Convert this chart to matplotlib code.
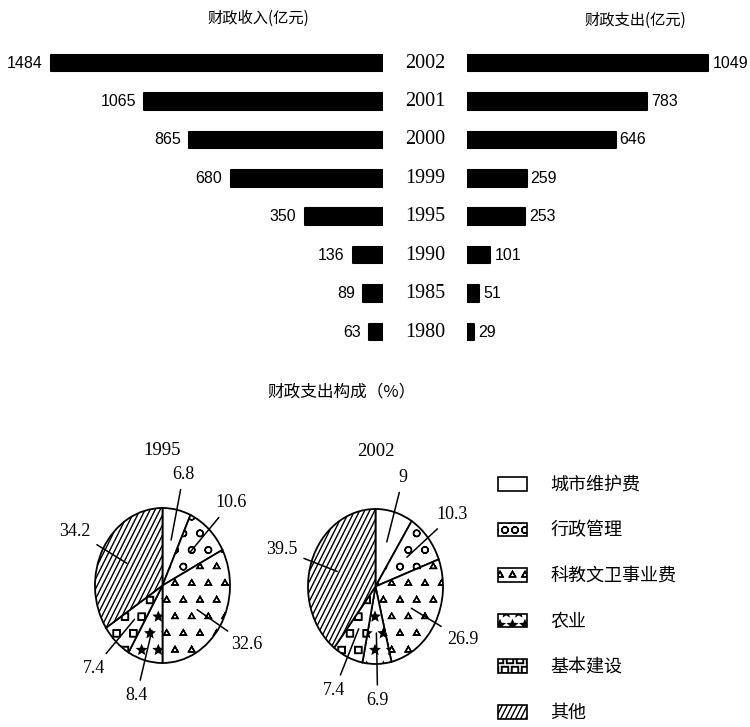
import numpy as np
import matplotlib
matplotlib.use('Agg')
import matplotlib.pyplot as plt
from matplotlib import hatch as mhatch
from matplotlib.path import Path
from matplotlib.patches import Patch
import matplotlib.transforms as mtransforms

# ---------------- data ----------------
years = ['2002', '2001', '2000', '1999', '1995', '1990', '1985', '1980']
revenue = [1484, 1065, 865, 680, 350, 136, 89, 63]          # 财政收入 (亿元)
expenditure = [1049, 783, 646, 259, 253, 101, 51, 29]       # 财政支出 (亿元)

categories = ['城市维护费', '行政管理', '科教文卫事业费', '农业', '基本建设', '其他']
pie_years = ['1995', '2002']
share_1995 = [6.8, 10.6, 32.6, 8.4, 7.4, 34.2]
share_2002 = [9, 10.3, 26.9, 6.9, 7.4, 39.5]

# ---------------- custom hatch patterns ----------------
def make_shape_hatch(char, path, radius, rows_per_count, filled=False):
    verts = np.array(path.vertices, float)
    codes = np.array(path.codes, dtype=Path.code_type)

    class ShapeHatch(mhatch.Shapes):
        def __init__(self, hatch, density):
            rows = int(round(hatch.count(char) * rows_per_count))
            self.num_rows = rows + rows % 2
            self.size = radius * self.num_rows
            self.filled = filled
            self.shape_vertices = verts
            self.shape_codes = codes
            super().__init__(hatch, density)
    return ShapeHatch


class SteepLines(mhatch.HatchPatternBase):
    def __init__(self, hatch, density):
        n = hatch.count('/') * 10
        self.num_lines = n + n % 2
        self.num_vertices = 0 if n == 0 else (int(1.5 * self.num_lines) + 3) * 2

    def set_vertices_and_codes(self, vertices, codes):
        m = self.num_vertices // 2
        a = -0.5 + np.arange(m) / self.num_lines
        vertices[0::2, 0] = a - 0.025
        vertices[0::2, 1] = -0.05
        vertices[1::2, 0] = a + 0.525
        vertices[1::2, 1] = 1.05
        codes[0::2] = Path.MOVETO
        codes[1::2] = Path.LINETO


square_path = Path([[-1, -1], [1, -1], [1, 1], [-1, 1], [-1, -1]],
                   [Path.MOVETO, Path.LINETO, Path.LINETO, Path.LINETO, Path.CLOSEPOLY])
_ht = mhatch._hatch_types
_ht[_ht.index(mhatch.NorthEastHatch)] = SteepLines
_ht[_ht.index(mhatch.SmallCircles)] = make_shape_hatch('o', Path.unit_circle(), 0.033, 2)
_ht[_ht.index(mhatch.SmallFilledCircles)] = make_shape_hatch('.', Path.unit_regular_polygon(3), 0.037, 2)
_ht[_ht.index(mhatch.Stars)] = make_shape_hatch('*', Path.unit_regular_star(5, 0.45), 0.045, 2, filled=True)
_ht[_ht.index(mhatch.LargeCircles)] = make_shape_hatch('O', square_path, 0.035, 2)

pie_hatches = ['', 'ooo', '...', '***', 'OOO', '//']
legend_hatches = ['', 'ooooo', '....', '****', 'OOOOO', '//']

# ---------------- style ----------------
CJK = ['Noto Sans CJK SC', 'DejaVu Sans']
plt.rcParams['font.family'] = CJK
plt.rcParams['hatch.linewidth'] = 1.0
plt.rcParams['hatch.color'] = 'black'

W, H = 750, 727
fig = plt.figure(figsize=(W / 100, H / 100), dpi=100)
fig.patch.set_facecolor('white')


def fx(px):
    return px / W


def fy(py):
    return 1 - py / H


# ---------------- back-to-back bars ----------------
n = len(years)
pitch = (332 - 63) / (n - 1)
top = 63 - pitch / 2
bottom = 332 + pitch / 2
pos = np.arange(n)

axL = fig.add_axes([0, fy(bottom), 383 / W, (bottom - top) / H])
axR = fig.add_axes([467 / W, fy(bottom), 283 / W, (bottom - top) / H])

barsL = axL.barh(pos, revenue, height=0.43, color='black', edgecolor='black',
                 linewidth=1.5, joinstyle='round')
barsR = axR.barh(pos, expenditure, height=0.43, color='black', edgecolor='black',
                 linewidth=1.5, joinstyle='round')

axL.set_xlim(383 / 0.224, 0)
axR.set_xlim(0, 283 / 0.230)
for ax in (axL, axR):
    ax.set_ylim(n - 0.5, -0.5)
    ax.axis('off')

num_family = ['Liberation Sans', 'DejaVu Sans']
axL.bar_label(barsL, labels=[str(v) for v in revenue], padding=6,
              fontfamily=num_family, fontsize=11.5)
axR.bar_label(barsR, labels=[str(v) for v in expenditure], padding=3,
              fontfamily=num_family, fontsize=11.5)

trans = mtransforms.blended_transform_factory(fig.transFigure, axL.transData)
for i, y in enumerate(years):
    axL.text(fx(425), i, y, transform=trans, ha='center', va='center',
             family='Liberation Serif', fontsize=14.5)

fig.text(fx(258), fy(18), '财政收入(亿元)', ha='center', va='center', fontsize=11)
fig.text(fx(635), fy(20), '财政支出(亿元)', ha='center', va='center', fontsize=11)

# ---------------- pies ----------------
fig.text(fx(342), fy(392), '财政支出构成（%）', ha='center', va='center', fontsize=12)

rx, ry, L = 67.5, 77.5, 1.8
centers = [(162.5, 585.5), (375.5, 586.5)]
for (cx, cy), yr, vals in zip(centers, pie_years, [share_1995, share_2002]):
    ax = fig.add_axes([fx(cx - rx * L), fy(cy + ry * L), 2 * rx * L / W, 2 * ry * L / H])
    wedges, _ = ax.pie(vals, startangle=90, counterclock=False,
                       colors=['white'] * len(vals), hatch=pie_hatches,
                       wedgeprops=dict(edgecolor='black', linewidth=1.3))
    ax.set_aspect('auto')
    ax.set_xlim(-L, L)
    ax.set_ylim(-L, L)
    ax.axis('off')
    ax.text(0, (cy - 451) / ry, yr, ha='center', va='center',
            family='Liberation Serif', fontsize=13.5)
    for w, v in zip(wedges, vals):
        th = np.deg2rad((w.theta1 + w.theta2) / 2)
        c, s = np.cos(th), np.sin(th)
        ax.annotate(f'{v:g}', xy=(0.6 * c, 0.6 * s), xytext=(1.47 * c, 1.47 * s),
                    ha='center', va='center', family='Liberation Serif', fontsize=13,
                    arrowprops=dict(arrowstyle='-', lw=1.1, color='black',
                                    shrinkA=3, shrinkB=0))

# ---------------- legend ----------------
handles = [Patch(facecolor='white', edgecolor='black', hatch=h, linewidth=1.2, label=lab)
           for h, lab in zip(legend_hatches, categories)]
fig.legend(handles=handles, loc='upper left', bbox_to_anchor=(fx(498), fy(476)),
           frameon=False, prop=dict(family=CJK, size=13), handlelength=1.6,
           handleheight=0.78, handletextpad=1.3, labelspacing=1.53,
           borderpad=0, borderaxespad=0)

fig.savefig('out.png', dpi=100, facecolor='white')
